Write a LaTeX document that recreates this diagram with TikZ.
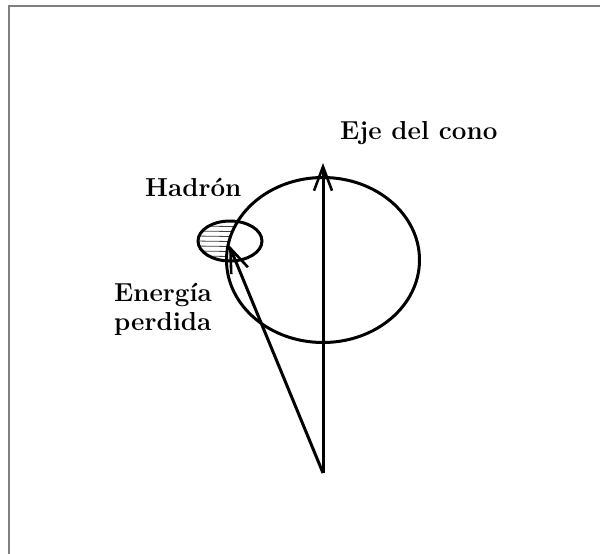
\documentclass[tikz,border=0pt]{standalone}
\usepackage{fontspec}
\usetikzlibrary{arrows.meta,shapes.geometric}
\begin{document}
\begin{tikzpicture}[x=1pt,y=-1pt,
  curve/.style={line width=3pt,black},
  axis/.style={line width=3pt,black,-{Straight Barb[length=24pt,width=18pt,line width=2.6pt]}},
  lbl/.style={font=\fontsize{26}{29}\selectfont\bfseries,inner sep=0pt,align=left},
  frameline/.style={line width=2pt,gray}]
\useasboundingbox (0,0) rectangle (600,554);
\fill[white] (0,0) rectangle (600,554);
\draw[frameline] (9,554) -- (9,6) -- (600,6);
% hatching in small ellipse outside big ellipse
\begin{scope}
  \clip (230,241) ellipse [x radius=32, y radius=20];
  \begin{scope}[even odd rule]
    \clip (180,200) rectangle (280,280) (323,260) ellipse [x radius=96.5, y radius=82.5];
    \foreach \yy in {226,231,...,262} \draw[line width=0.8pt,black!75] (195,\yy) -- (265,\yy+1);
  \end{scope}
\end{scope}
\node[draw,curve,ellipse,minimum width=193pt,minimum height=165pt,inner sep=0pt] (cone) at (323,260) {};
\node[draw,curve,ellipse,minimum width=64pt,minimum height=40pt,inner sep=0pt] (hadron) at (230,241) {};
\coordinate (apex) at (323,473);
\coordinate (axtip) at (323,163);
\coordinate (hadtip) at (229,245);
\draw[axis] (apex) -- (axtip);
\draw[axis] (apex) -- (hadtip);
\node[lbl,anchor=base west] (eje) at (340,139) {Eje del cono};
\node[lbl,anchor=base west] (had) at (145,196) {Hadrón};
\node[lbl,anchor=base west] (ene) at (114,330) {Energía\\perdida};
\end{tikzpicture}
\end{document}
